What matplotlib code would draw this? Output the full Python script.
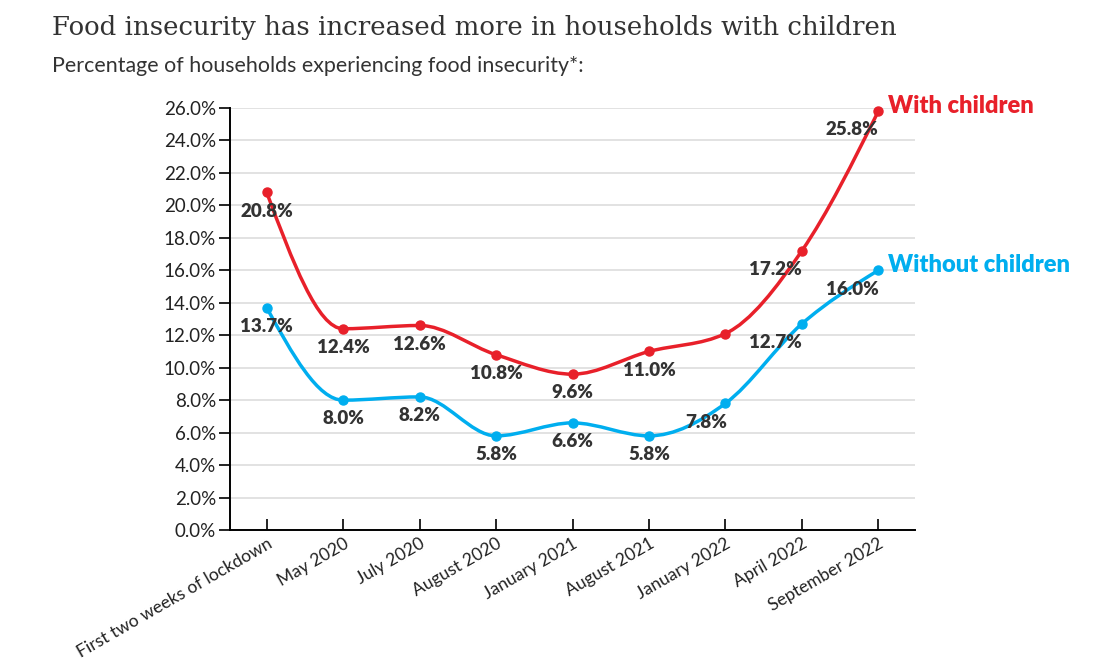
import numpy as np
import matplotlib
matplotlib.use("Agg")
import matplotlib.pyplot as plt
from matplotlib.path import Path
from matplotlib.patches import PathPatch

categories = ["First two weeks of lockdown", "May 2020", "July 2020", "August 2020",
              "January 2021", "August 2021", "January 2022", "April 2022", "September 2022"]
with_children = [20.8, 12.4, 12.6, 10.8, 9.6, 11.0, 12.1, 17.2, 25.8]
without_children = [13.7, 8.0, 8.2, 5.8, 6.6, 5.8, 7.8, 12.7, 16.0]
# which points carry a value label (January 2022 with children has none)
with_labels = [True, True, True, True, True, True, False, True, True]
without_labels = [True] * 9

red = "#E8202A"
blue = "#00AEEF"
txt = "#333333"


def monotone_path(xs, ys):
    # monotone cubic (d3 curveMonotoneX style) as bezier path
    xs = np.asarray(xs, float)
    ys = np.asarray(ys, float)
    n = len(xs)
    h = np.diff(xs)
    s = np.diff(ys) / h
    m = np.zeros(n)
    for i in range(1, n - 1):
        p = (s[i - 1] * h[i] + s[i] * h[i - 1]) / (h[i - 1] + h[i])
        m[i] = (np.sign(s[i - 1]) + np.sign(s[i])) * min(abs(s[i - 1]), abs(s[i]), 0.5 * abs(p))
    m[0] = (3 * s[0] - m[1]) / 2
    m[-1] = (3 * s[-1] - m[-2]) / 2
    verts = [(xs[0], ys[0])]
    codes = [Path.MOVETO]
    for i in range(n - 1):
        dx = h[i] / 3
        verts += [(xs[i] + dx, ys[i] + dx * m[i]),
                  (xs[i + 1] - dx, ys[i + 1] - dx * m[i + 1]),
                  (xs[i + 1], ys[i + 1])]
        codes += [Path.CURVE4] * 3
    return Path(verts, codes)


fig = plt.figure(figsize=(11.1, 6.6), dpi=100)
ax = fig.add_axes([230 / 1110, 130 / 660, 685 / 1110, 422 / 660])

x = np.arange(len(categories))
for vals, col in [(with_children, red), (without_children, blue)]:
    ax.add_patch(PathPatch(monotone_path(x, vals), fill=False, edgecolor=col, lw=2.5,
                           capstyle="round", zorder=3, clip_on=False))
    ax.plot(x, vals, "o", color=col, ms=6.5, zorder=4, clip_on=False)

# value labels, offsets in points
for vals, shows in [(with_children, with_labels), (without_children, without_labels)]:
    for i, (v, show) in enumerate(zip(vals, shows)):
        if not show:
            continue
        dx = -19 if i >= 7 else (-14 if i == 6 else 0)
        ax.annotate(f"{v:.1f}%", (i, v), xytext=(dx, -13.5), textcoords="offset points",
                    ha="center", va="center", fontsize=13.5, fontweight="heavy",
                    color=txt, family="Lato", zorder=5)

ax.annotate("With children", (8, with_children[-1]), xytext=(7, 4), textcoords="offset points",
            ha="left", va="center", fontsize=17, fontweight="heavy", color=red, family="Lato")
ax.annotate("Without children", (8, without_children[-1]), xytext=(7, 4), textcoords="offset points",
            ha="left", va="center", fontsize=17, fontweight="heavy", color=blue, family="Lato")

ax.set_xlim(-0.48, 8.48)
ax.set_ylim(0, 26)
ax.set_yticks(np.arange(0, 27, 2))
ax.set_yticklabels([f"{t:.1f}%" for t in np.arange(0, 27, 2)], family="Lato", fontsize=13.5, color="#222222")
ax.set_xticks(x)
ax.set_xticklabels(categories, rotation=30, ha="right", rotation_mode="anchor",
                   family="Lato", fontsize=12.6, color="#222222")
ax.tick_params(axis="y", direction="out", length=8, width=1.2, pad=2)
ax.tick_params(axis="x", direction="in", length=8, width=1.2, pad=4)
ax.grid(axis="y", color="#dddddd", lw=1.2)
ax.set_axisbelow(True)
for s in ["top", "right"]:
    ax.spines[s].set_visible(False)
ax.spines["left"].set_linewidth(1.4)
ax.spines["bottom"].set_linewidth(1.4)

fig.text(52 / 1110, 1 - 27 / 660, "Food insecurity has increased more in households with children",
         family="DejaVu Serif", fontsize=18.7, color="#333333", va="center")
fig.text(52 / 1110, 1 - 66 / 660, "Percentage of households experiencing food insecurity*:",
         family="Lato", fontsize=15.4, color="#333333", va="center")

fig.savefig("out.png", dpi=100)
